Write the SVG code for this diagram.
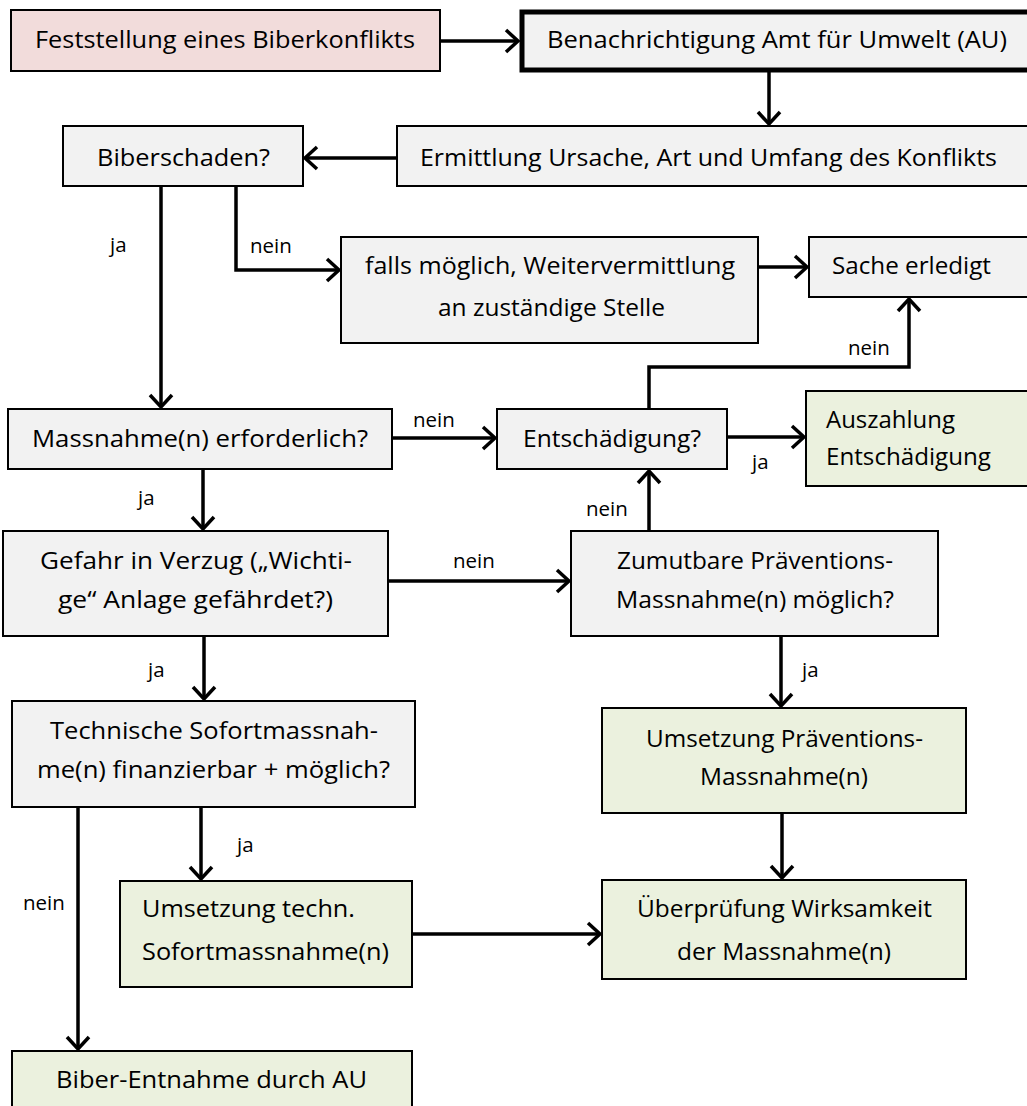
<svg xmlns="http://www.w3.org/2000/svg" width="1027" height="1106" viewBox="0 0 1027 1106">
<style>
.n{stroke:#000;stroke-width:2}
.g{fill:#f2f2f2}
.p{fill:#f2dcdb}
.v{fill:#ebf1de}
.t{font-family:"Open Sans","Liberation Sans",sans-serif;font-size:23px;fill:#000}
.l{font-family:"Open Sans","Liberation Sans",sans-serif;font-size:20.5px;fill:#000}
.c{fill:none;stroke:#000;stroke-width:3.5}
</style>
<defs>
<marker id="a" markerUnits="userSpaceOnUse" markerWidth="30" markerHeight="30" refX="15" refY="15" orient="auto" overflow="visible">
<path d="M3,4 L15,15 L3,26" fill="none" stroke="#000" stroke-width="3.5"/>
</marker>
</defs>
<rect width="1027" height="1106" fill="#fff"/>
<g id="n1"><rect class="n p" x="11" y="10" width="429" height="61"/><text class="t" x="35" y="48" textLength="380" lengthAdjust="spacingAndGlyphs">Feststellung eines Biberkonflikts</text></g>
<g id="n2"><rect class="g" x="522" y="12" width="520" height="58" stroke="#000" stroke-width="5"/><text class="t" x="547" y="48" textLength="460" lengthAdjust="spacingAndGlyphs">Benachrichtigung Amt für Umwelt (AU)</text></g>
<g id="n3"><rect class="n g" x="397" y="126" width="640" height="60"/><text class="t" x="420" y="166" textLength="577" lengthAdjust="spacingAndGlyphs">Ermittlung Ursache, Art und Umfang des Konflikts</text></g>
<g id="n4"><rect class="n g" x="63" y="126" width="240" height="60"/><text class="t" x="97" y="166" textLength="173" lengthAdjust="spacingAndGlyphs">Biberschaden?</text></g>
<g id="n5"><rect class="n g" x="341" y="237" width="417" height="106"/><text class="t" x="365" y="274" textLength="370" lengthAdjust="spacingAndGlyphs">falls möglich, Weitervermittlung</text><text class="t" x="438" y="316" textLength="227" lengthAdjust="spacingAndGlyphs">an zuständige Stelle</text></g>
<g id="n6"><rect class="n g" x="809" y="237" width="230" height="60"/><text class="t" x="832" y="274" textLength="159" lengthAdjust="spacingAndGlyphs">Sache erledigt</text></g>
<g id="n7"><rect class="n g" x="8" y="409" width="384" height="60"/><text class="t" x="32" y="447" textLength="336" lengthAdjust="spacingAndGlyphs">Massnahme(n) erforderlich?</text></g>
<g id="n8"><rect class="n g" x="497" y="409" width="230" height="60"/><text class="t" x="523" y="447" textLength="178" lengthAdjust="spacingAndGlyphs">Entschädigung?</text></g>
<g id="n9"><rect class="n v" x="806" y="391" width="235" height="95"/><text class="t" x="826" y="428" textLength="129" lengthAdjust="spacingAndGlyphs">Auszahlung</text><text class="t" x="826" y="465" textLength="165" lengthAdjust="spacingAndGlyphs">Entschädigung</text></g>
<g id="n10"><rect class="n g" x="3" y="531" width="385" height="105"/><text class="t" x="40" y="569" textLength="312" lengthAdjust="spacingAndGlyphs">Gefahr in Verzug („Wichti-</text><text class="t" x="58" y="608" textLength="275" lengthAdjust="spacingAndGlyphs">ge“ Anlage gefährdet?)</text></g>
<g id="n11"><rect class="n g" x="571" y="531" width="367" height="105"/><text class="t" x="617" y="569" textLength="276" lengthAdjust="spacingAndGlyphs">Zumutbare Präventions-</text><text class="t" x="616" y="608" textLength="278" lengthAdjust="spacingAndGlyphs">Massnahme(n) möglich?</text></g>
<g id="n12"><rect class="n v" x="602" y="708" width="364" height="105"/><text class="t" x="646" y="747" textLength="277" lengthAdjust="spacingAndGlyphs">Umsetzung Präventions-</text><text class="t" x="700" y="785" textLength="168" lengthAdjust="spacingAndGlyphs">Massnahme(n)</text></g>
<g id="n13"><rect class="n v" x="602" y="880" width="364" height="99"/><text class="t" x="637" y="917" textLength="295" lengthAdjust="spacingAndGlyphs">Überprüfung Wirksamkeit</text><text class="t" x="677" y="960" textLength="214" lengthAdjust="spacingAndGlyphs">der Massnahme(n)</text></g>
<g id="n14"><rect class="n g" x="12" y="701" width="403" height="106"/><text class="t" x="50" y="739" textLength="328" lengthAdjust="spacingAndGlyphs">Technische Sofortmassnah-</text><text class="t" x="37" y="778" textLength="353" lengthAdjust="spacingAndGlyphs">me(n) finanzierbar + möglich?</text></g>
<g id="n15"><rect class="n v" x="120" y="881" width="292" height="106"/><text class="t" x="142" y="917" textLength="213" lengthAdjust="spacingAndGlyphs">Umsetzung techn.</text><text class="t" x="142" y="960" textLength="247" lengthAdjust="spacingAndGlyphs">Sofortmassnahme(n)</text></g>
<g id="n16"><rect class="n v" x="12" y="1051" width="400" height="70"/><text class="t" x="56" y="1088" textLength="311" lengthAdjust="spacingAndGlyphs">Biber-Entnahme durch AU</text></g>
<g id="connectors">
<path class="c" marker-end="url(#a)" d="M440,41 H518"/>
<path class="c" marker-end="url(#a)" d="M769,72 V124"/>
<path class="c" marker-end="url(#a)" d="M397,158 H305"/>
<path class="c" marker-end="url(#a)" d="M161,186 V407"/>
<path class="c" marker-end="url(#a)" d="M236,186 V270 H339"/>
<path class="c" marker-end="url(#a)" d="M758,267 H807"/>
<path class="c" marker-end="url(#a)" d="M392,438 H495"/>
<path class="c" marker-end="url(#a)" d="M649,409 V367 H909 V299"/>
<path class="c" marker-end="url(#a)" d="M727,437 H804"/>
<path class="c" marker-end="url(#a)" d="M203,469 V529"/>
<path class="c" marker-end="url(#a)" d="M388,581 H569"/>
<path class="c" marker-end="url(#a)" d="M649,531 V471"/>
<path class="c" marker-end="url(#a)" d="M781,636 V706"/>
<path class="c" marker-end="url(#a)" d="M204,636 V699"/>
<path class="c" marker-end="url(#a)" d="M78,807 V1049"/>
<path class="c" marker-end="url(#a)" d="M201,807 V879"/>
<path class="c" marker-end="url(#a)" d="M412,934 H600"/>
<path class="c" marker-end="url(#a)" d="M782,813 V878"/>
<text class="l" x="110" y="252">ja</text>
<text class="l" x="250" y="253">nein</text>
<text class="l" x="848" y="355">nein</text>
<text class="l" x="413" y="427">nein</text>
<text class="l" x="752" y="469">ja</text>
<text class="l" x="586" y="516">nein</text>
<text class="l" x="138" y="505">ja</text>
<text class="l" x="453" y="568">nein</text>
<text class="l" x="802" y="677">ja</text>
<text class="l" x="148" y="677">ja</text>
<text class="l" x="237" y="852">ja</text>
<text class="l" x="23" y="910">nein</text>
</g>
</svg>
